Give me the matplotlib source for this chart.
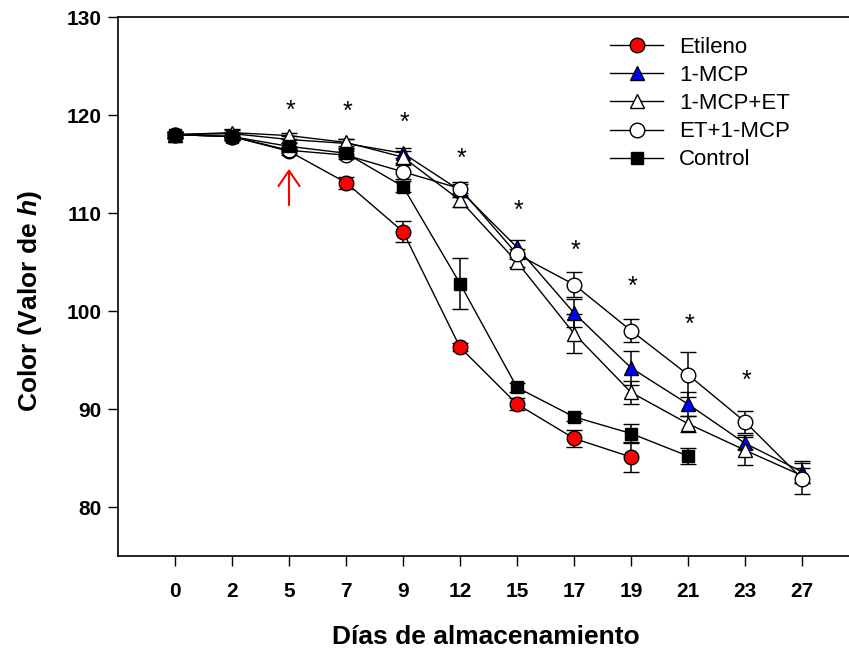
import matplotlib
matplotlib.use("Agg")
import matplotlib.pyplot as plt
from matplotlib.lines import Line2D

plt.rcParams['font.family'] = ['Liberation Sans', 'DejaVu Sans']
plt.rcParams['mathtext.fontset'] = 'custom'
plt.rcParams['mathtext.it'] = 'Liberation Sans:italic:bold'
plt.rcParams['mathtext.rm'] = 'Liberation Sans:bold'

# ---------- data ----------
days = ['0', '2', '5', '7', '9', '12', '15', '17', '19', '21', '23', '27']

etileno = [118.0, 117.8, 116.3, 113.1, 108.1, 96.3, 90.5, 87.0, 85.1]
etileno_err = [0.3, 0.4, 0.4, 0.6, 1.1, 0.4, 0.6, 0.9, 1.5]

mcp = [118.0, 118.1, 117.5, 117.1, 116.1, 112.3, 106.5, 99.8, 94.2, 90.5, 86.5, 83.6]
mcp_err = [0.3, 0.4, 0.4, 0.5, 0.5, 0.7, 0.7, 1.4, 1.7, 1.2, 0.6, 1.1]

mcp_et = [118.0, 118.2, 117.9, 117.2, 115.7, 111.3, 105.0, 97.7, 91.7, 88.5, 85.8, 83.2]
mcp_et_err = [0.3, 0.4, 0.3, 0.4, 0.6, 0.7, 0.5, 2.0, 1.2, 0.8, 1.5, 0.8]

et_mcp = [118.0, 117.8, 116.4, 115.9, 114.2, 112.5, 105.8, 102.7, 98.0, 93.5, 88.7, 82.9]
et_mcp_err = [0.3, 0.4, 0.3, 0.4, 0.7, 0.7, 0.5, 1.3, 1.2, 2.3, 1.1, 1.6]

control = [118.0, 117.8, 116.8, 116.1, 112.7, 102.8, 92.2, 89.2, 87.5, 85.2]
control_err = [0.3, 0.4, 0.3, 0.4, 0.6, 2.6, 0.5, 0.4, 1.0, 0.8]

# significance marks (category index, height)
star_idx = [2, 3, 4, 5, 6, 7, 8, 9, 10]
star_y = [121.0, 120.9, 119.8, 116.1, 110.8, 106.7, 103.1, 99.2, 93.5]

# ---------- figure ----------
fig = plt.figure(figsize=(8.49, 6.51), dpi=100)
ax = fig.add_axes([118 / 849, 95 / 651, 798 / 849, 539 / 651])

series = [
    ('Etileno', etileno, etileno_err, 'o', 'red', 10.5),
    ('1-MCP', mcp, mcp_err, '^', 'blue', 10.5),
    ('1-MCP+ET', mcp_et, mcp_et_err, '^', 'white', 10.5),
    ('ET+1-MCP', et_mcp, et_mcp_err, 'o', 'white', 10.5),
    ('Control', control, control_err, 's', 'black', 8.5),
]

handles = []
for label, vals, err, mk, fc, ms in series:
    xs = list(range(len(vals)))
    ax.errorbar(xs, vals, yerr=err, fmt='-', marker=mk, color='black', mfc=fc,
                mec='black', mew=1.0, ms=ms, lw=1.0, elinewidth=1.1,
                capsize=6, capthick=1.1)
    handles.append(Line2D([], [], color='black', lw=1.0, marker=mk, mfc=fc,
                          mec='black', mew=1.0, ms=ms, label=label))

for i, y in zip(star_idx, star_y):
    ax.text(i + 0.03, y - 0.6, '*', ha='center', va='center', fontsize=18)

# red arrow at day 5
ax.annotate('', xy=(2, 114.5), xytext=(2, 110.8),
            arrowprops=dict(arrowstyle='->,head_length=0.55,head_width=0.38',
                            color='red', lw=1.5, mutation_scale=20,
                            shrinkA=0, shrinkB=0))

ax.set_xlim(-1, 13)
ax.set_ylim(75, 130)
ax.set_xticks(range(len(days)))
ax.set_xticklabels(days)
ax.set_yticks([80, 90, 100, 110, 120, 130])
ax.tick_params(axis='both', direction='out', length=7, width=1.0)
ax.tick_params(axis='x', pad=12, labelsize=15)
ax.tick_params(axis='y', pad=5, labelsize=15)
for lab in ax.get_xticklabels() + ax.get_yticklabels():
    lab.set_fontweight('bold')
for sp in ax.spines.values():
    sp.set_linewidth(1.2)

ax.set_xlabel('Días de almacenamiento', fontsize=19, fontweight='bold')
ax.xaxis.label.set_verticalalignment('center')
ax.xaxis.set_label_coords((485.5 - 118) / 798, -81 / 539)
ax.set_ylabel(r'Color (Valor de $\mathit{h}$)', fontsize=19, fontweight='bold')
ax.yaxis.set_label_coords((44 - 118) / 798, (556 - 301) / 539)

ax.legend(handles=handles, loc='upper left', bbox_to_anchor=(610 / 849, 1 - 37 / 651),
          bbox_transform=fig.transFigure, frameon=False, fontsize=16,
          handlelength=2.4, handletextpad=0.7, labelspacing=0.32,
          borderpad=0, borderaxespad=0)

fig.savefig('out.png', dpi=100)
